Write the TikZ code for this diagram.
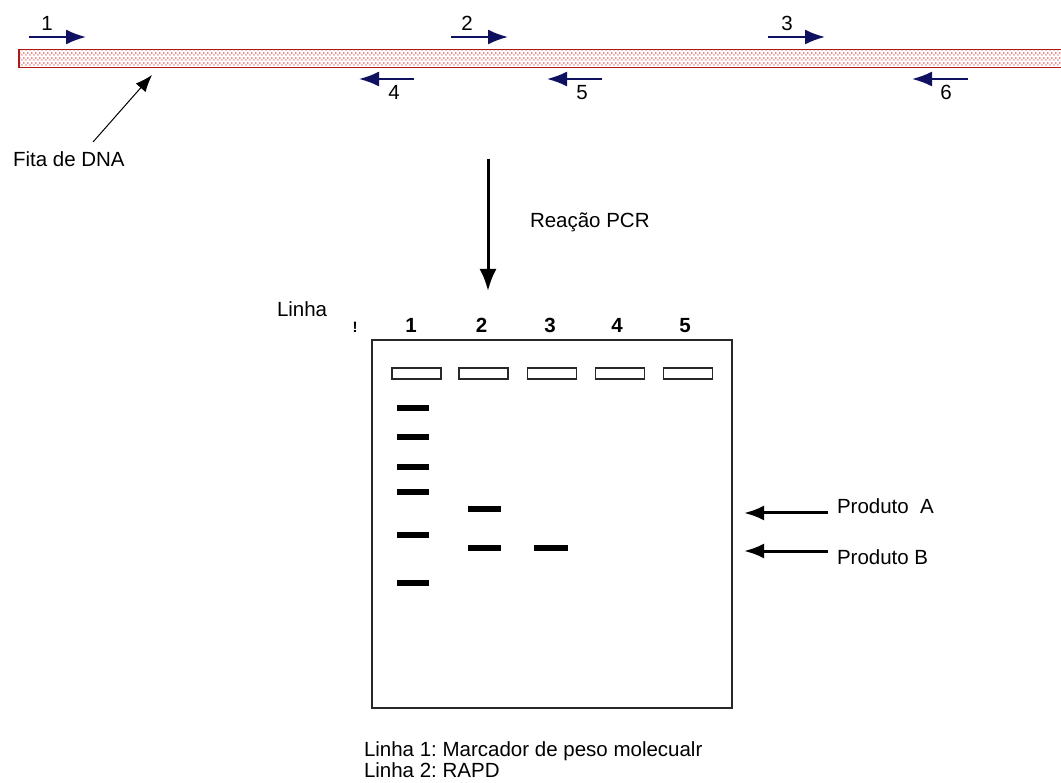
\documentclass[tikz,border=0pt]{standalone}
\usepackage{fontspec}
\setmainfont{Liberation Sans}
\usetikzlibrary{arrows.meta,patterns.meta}
\frenchspacing

\definecolor{primer}{RGB}{16,16,96}
\definecolor{strandedge}{RGB}{175,25,25}
\definecolor{stranddot}{RGB}{225,20,20}
\definecolor{gelline}{RGB}{40,40,40}

% staggered red dots for the DNA strand
\tikzdeclarepattern{
  name=dnadots, type=uncolored,
  bounding box={(0pt,0pt) and (4.4pt,4.4pt)},
  tile size={(4.4pt,4.4pt)},
  code={\pgfpathcircle{\pgfqpoint{1.1pt}{1.1pt}}{0.8pt}%
        \pgfpathcircle{\pgfqpoint{3.3pt}{3.3pt}}{0.8pt}%
        \pgfusepath{fill}}
}

\begin{document}
\begin{tikzpicture}[x=1pt,y=-1pt,
  lbl/.style={inner sep=0pt, outer sep=0pt, font=\fontsize{20.5}{24}\selectfont},
  lanenum/.style={lbl, anchor=base, font=\fontsize{20.5}{24}\selectfont\bfseries},
  primerarrow/.style={draw=primer, line width=2pt, -{Latex[length=20pt,width=15pt]}},
  bigarrow/.style={draw=black, line width=3pt, -{Latex[length=22pt,width=17pt]}},
  prodarrow/.style={draw=black, line width=3pt, -{Latex[length=20pt,width=15pt]}},
  thinarrow/.style={draw=black, line width=1pt, -{Latex[length=17pt,width=13pt]}},
  well/.style={draw=gelline, line width=1.5pt, inner sep=0pt, outer sep=0pt,
    minimum width=49pt, minimum height=11pt},
  band/.style={fill=black}
]
\useasboundingbox (0,0) rectangle (1061,783);

% DNA strand
\node[draw=strandedge, line width=1.2pt, pattern=dnadots, pattern color=stranddot,
  inner sep=0pt, outer sep=0pt, minimum width=1060pt, minimum height=18pt,
  anchor=north west] (strand) at (19,49.5) {};

% forward primers
\coordinate (p1s) at (29,37);  \coordinate (p1e) at (86,37);
\coordinate (p2s) at (451,37); \coordinate (p2e) at (508,37);
\coordinate (p3s) at (768,37); \coordinate (p3e) at (825,37);
\draw[primerarrow] (p1s) -- (p1e);
\draw[primerarrow] (p2s) -- (p2e);
\draw[primerarrow] (p3s) -- (p3e);
\node[lbl, anchor=base] (n1) at (47,31) {1};
\node[lbl, anchor=base] (n2) at (467,31) {2};
\node[lbl, anchor=base] (n3) at (787,31) {3};

% reverse primers
\coordinate (p4s) at (414,79); \coordinate (p4e) at (359,79);
\coordinate (p5s) at (602,79); \coordinate (p5e) at (547,79);
\coordinate (p6s) at (968,79); \coordinate (p6e) at (912,79);
\draw[primerarrow] (p4s) -- (p4e);
\draw[primerarrow] (p5s) -- (p5e);
\draw[primerarrow] (p6s) -- (p6e);
\node[lbl, anchor=base] (n4) at (394,100) {4};
\node[lbl, anchor=base] (n5) at (582,100) {5};
\node[lbl, anchor=base] (n6) at (946,100) {6};

% strand label
\node[lbl, anchor=base west] (fita) at (13,167) {Fita de DNA};
\coordinate (fitaS) at (93,142);
\coordinate (fitaT) at (152,75);
\draw[thinarrow] (fitaS) -- (fitaT);

% PCR step
\coordinate (pcrS) at (488,159);
\coordinate (pcrT) at (488,291);
\draw[bigarrow] (pcrS) -- (pcrT);
\node[lbl, anchor=base west] (pcr) at (530,228) {Reação PCR};

% lane headings
\node[lbl, anchor=base west] (linha) at (277,317) {Linha};
\node[inner sep=0pt, anchor=base, font=\fontsize{15}{16}\selectfont\bfseries] (mark) at (355,333) {!};
\node[lanenum] (l1) at (411,333) {1};
\node[lanenum] (l2) at (481.5,333) {2};
\node[lanenum] (l3) at (550,333) {3};
\node[lanenum] (l4) at (617,333) {4};
\node[lanenum] (l5) at (685,333) {5};

% gel
\node[draw=gelline, line width=2pt, inner sep=0pt, outer sep=0pt,
  minimum width=360pt, minimum height=368pt, anchor=north west] (gel) at (372,340) {};

% wells
\node[well] (w1) at (416.5,373.5) {};
\node[well] (w2) at (483.5,373.5) {};
\node[well] (w3) at (552,373.5) {};
\node[well] (w4) at (620,373.5) {};
\node[well] (w5) at (688,373.5) {};

% bands: lane 1 (marker)
\foreach \y in {408,437,467,492,535,583}
  \fill[band] (397,\y-3.3) rectangle (429,\y+3.3);
% lane 2
\foreach \y in {509,548}
  \fill[band] (468,\y-3.3) rectangle (501,\y+3.3);
% lane 3
\fill[band] (534,548-3.3) rectangle (568,548+3.3);

% products
\coordinate (paS) at (828,513); \coordinate (paT) at (744,513);
\coordinate (pbS) at (828,551); \coordinate (pbT) at (744,551);
\draw[prodarrow] (paS) -- (paT);
\draw[prodarrow] (pbS) -- (pbT);
\node[lbl, anchor=base west] (prodA) at (837,514) {Produto\ \ A};
\node[lbl, anchor=base west] (prodB) at (837,564) {Produto B};

% legend
\node[lbl, anchor=base west] (leg1) at (364,756) {Linha 1: Marcador de peso molecualr};
\node[lbl, anchor=base west] (leg2) at (364,777) {Linha 2: RAPD};
\end{tikzpicture}
\end{document}
